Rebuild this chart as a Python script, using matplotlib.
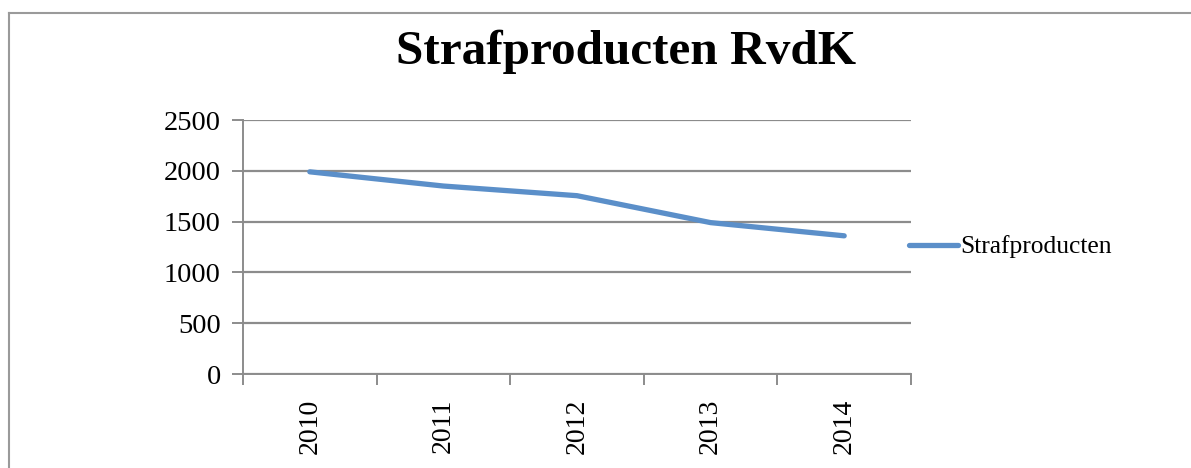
import matplotlib
matplotlib.use("Agg")
import matplotlib.pyplot as plt
from matplotlib.lines import Line2D

years = ["2010", "2011", "2012", "2013", "2014"]
strafproducten = [1990, 1850, 1755, 1490, 1360]
y_ticks = [0, 500, 1000, 1500, 2000, 2500]
title = "Strafproducten RvdK"
series_name = "Strafproducten"

plt.rcParams['font.family'] = ['Liberation Serif', 'DejaVu Serif']

fig = plt.figure(figsize=(11.91, 4.68), dpi=100)
ax = fig.add_axes([243/1191, 1-374/468, (911-243)/1191, (374-120)/468])

grid_c = "#8c8c8c"
x = list(range(len(years)))
ax.plot(x, strafproducten, color="#5b8fc9", lw=3.8, solid_capstyle="round",
        label=series_name, zorder=3)

ax.set_xlim(-0.5, len(years) - 0.5)
ax.set_ylim(0, 2500)
ax.set_yticks(y_ticks)
ax.set_yticklabels([str(v) for v in y_ticks], fontsize=20.5)
ax.yaxis.grid(True, color=grid_c, lw=1.6)
ax.set_axisbelow(True)
ax.set_xticks(x)
ax.set_xticklabels(years, rotation=90, fontsize=20)
ax.tick_params(axis='x', length=0, pad=18)
ax.set_xticks([i - 0.5 for i in range(len(years) + 1)], minor=True)
ax.tick_params(axis='x', which='minor', length=8, width=1.4, color=grid_c, direction='out')
ax.tick_params(axis='y', length=8, width=1.4, color=grid_c, pad=8)
for s in ["top", "right"]:
    ax.spines[s].set_visible(False)
for s in ["left", "bottom"]:
    ax.spines[s].set_color(grid_c)
    ax.spines[s].set_linewidth(1.4)

fig.text(626/1191, 1-52/468, title, ha="center", va="center",
         fontsize=35.5, fontweight="bold")

leg = fig.legend(loc="center left", bbox_to_anchor=(899/1191, 1-247/468),
                 frameon=False, fontsize=18.4, handlelength=1.9, handletextpad=0.1,
                 borderaxespad=0)

fig.add_artist(Line2D([9/1191, 9/1191], [0, 1-13/468], color="#9a9a9a", lw=1.5,
                      transform=fig.transFigure))
fig.add_artist(Line2D([9/1191, 1], [1-13/468, 1-13/468], color="#9a9a9a", lw=1.5,
                      transform=fig.transFigure))

fig.savefig("out.png", dpi=100)
